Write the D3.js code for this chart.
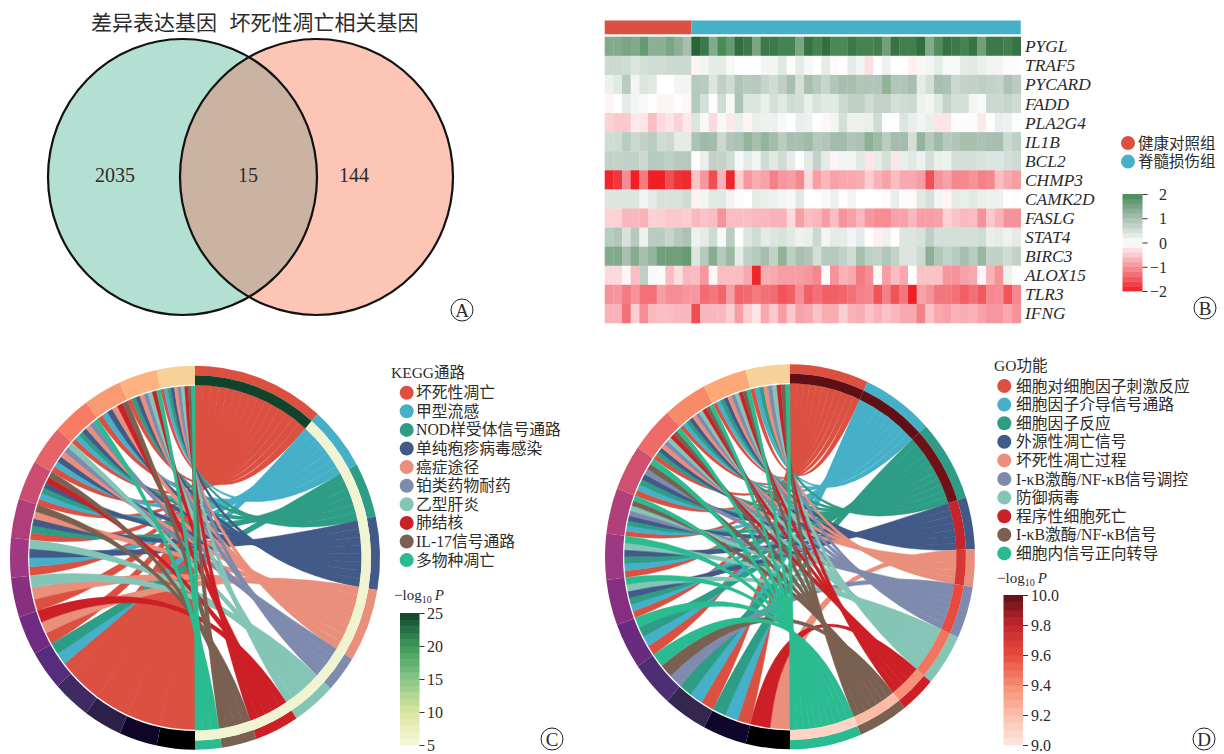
<!DOCTYPE html>
<html lang="zh">
<head>
<meta charset="UTF-8">
<title>Venn, heatmap and chord diagrams</title>
<script src="https://d3js.org/d3.v7.min.js"></script>
<style>
    body { margin: 0; background: #fff; }
    svg text { font-family: "Liberation Serif", "Noto Sans CJK SC", serif; fill: #2b2b2b; }
</style>
</head>
<body>
<svg id="chart" width="1224" height="754"></svg>
<script>
// Panel A
const vennLabels = ['差异表达基因', '坏死性凋亡相关基因'];
const vennCounts = [2035, 15, 144];

// Panel B
const heatGenes = ['PYGL', 'TRAF5', 'PYCARD', 'FADD', 'PLA2G4', 'IL1B', 'BCL2', 'CHMP3', 'CAMK2D', 'FASLG', 'STAT4', 'BIRC3', 'ALOX15', 'TLR3', 'IFNG'];
const heatGroups = ['健康对照组', '脊髓损伤组'];
const heatGroupSizes = [10, 38];
const heatValues = [
    [1.4,1.4,1.5,1.4,1.7,1.3,1.3,1.5,1.3,1.0, 2.7,2.3,1.4,2.0,1.7,2.5,2.3,1.5,2.3,2.3,2.1,2.1,1.5,2.4, 2.1,2.5,2.0,2.0,2.3,2.1,2.1,2.2,1.6,2.4,2.2,2.2,2.5,1.4,1.9,2.4,2.3,2.1,2.4,1.6,2.3,2.3,2.2,2.4],
    [.6,.6,.55,.4,.5,.55,.55,.6,.6,.6, -.1,.15,.3,.3,.1,0,0,0,.15,.15,.35,.05,.3,.1, 0,.3,-.05,0,.3,.15,-.3,0,.2,0,0,-.15,.1,.15,.3,.1,.1,.3,.35,.25,.15,.15,.05,.05],
    [.2,.35,.8,.15,.4,.35,0,0,.15,.15, .85,.8,.4,.75,.55,.9,.8,.85,.65,.55,.75,1,.5,1, .85,.65,.9,1,1,.9,.9,.9,1.25,.9,.9,1,.3,.5,1,.95,.6,.7,.7,.75,.7,.65,.95,.8],
    [-.1,-.02,.3,.15,.1,-.03,-.1,-.1,-.03,-.08, .85,.5,-.02,.55,.1,.95,.4,.4,.25,.5,.35,.55,.5,.25, .45,.35,.35,.6,.75,.75,.55,.7,.7,.5,.55,.6,.2,.15,.35,.7,.5,.5,.15,.08,.6,.6,.65,.55],
    [-.4,-.5,-.5,-.2,-.25,-.6,-.35,-.25,-.4,-.2, .4,.1,-.35,.1,-.2,.25,-.1,.25,.2,.2,.1,0,.25,.2, 0,-.08,.15,.5,.2,.2,.25,.55,0,-.02,.4,.25,.15,.25,-.25,-.25,.05,.05,.05,-.2,0,.25,.2,.05],
    [.55,.55,.8,.6,.7,.8,.55,.6,.3,.3, .95,1.1,1.05,.6,.9,.95,1.2,1,1.2,1.05,.8,1,1,1.1, .85,.9,1.05,1.05,.9,.95,1.3,1.1,.8,1.05,1.05,.5,1.2,.85,1.1,.85,.9,1,1,.95,1,1,.6,.75],
    [.7,.7,.7,.7,.6,.85,.8,.75,.85,.85, -.02,.25,.7,.7,.55,.1,.3,.15,.55,.35,.55,.3,0,.3, .7,.3,-.1,.15,.15,.35,-.25,.3,.5,-.25,.25,.35,.2,.5,.25,.2,.5,.5,.5,.45,.4,.4,.5,.55],
    [-1.95,-1.8,-1.05,-2,-1.2,-2,-2,-1.6,-1.85,-1.9, -.55,-.95,-1.6,-.7,-1.95,-.45,-.95,-.75,-.85,-1.15,-.95,-.9,-1.1,-.35, -.9,-.65,-.85,-.8,-.8,-.75,-.45,-.7,-.85,-.6,-.8,-.8,-.9,-1.6,-1,-.85,-1.1,-1.1,-1,-1.15,-1.1,-.6,-.8,-.9],
    [.4,.4,.4,.4,.15,.3,.45,.45,.45,.55, -.12,.15,.35,.35,.15,.05,0,.3,.25,.2,.15,.1,.35,0, 0,.1,.2,-.02,.15,0,0,0,.05,.25,.05,-.05,.35,.5,.15,-.1,.3,.25,.35,.25,.2,.2,-.02,.05],
    [-.4,-.4,-.65,-.65,-.7,-.4,-.45,-.5,-.5,-.45, -.65,-.55,-.6,-1,-.6,-.6,-.6,-.65,-.65,-.7,-.7,-.35,-.9,-.6, -.65,-.9,-.6,-1,-.85,-.65,-.95,-1.05,-1.05,-.85,-.85,-.65,-.9,-.9,-.85,-.4,-.55,-.65,-.6,-1,-.5,-.7,-1,-1],
    [.8,.9,.45,.85,.2,.8,.8,.65,.85,.95, .2,.3,.55,.1,.8,-.02,.4,.55,.3,.4,.45,.35,.2,.25, .6,.15,.3,.3,.15,.3,-.02,-.15,.2,-.02,.4,.4,.45,.75,.5,.5,.5,.5,.5,.55,.25,.3,.2,.3],
    [1.4,1.4,1,1.35,1,1.2,1.6,1.6,1.6,1.7, .4,.85,1.35,.85,1.15,.3,.75,.85,1,.7,1.25,.75,1,.9, .5,.85,.85,.7,.55,1,.75,.7,.9,.7,.4,.4,.6,1.3,.9,.7,.8,1,.8,1.15,.7,.7,.55,.7],
    [-.35,-.35,-.08,-.6,.75,.1,-.05,-.6,-.3,-.65, -.6,-.95,-.08,-.6,-.6,-.6,-.8,-1.95,-.75,-.8,-.9,-.9,-.9,-.95, -1.1,-.05,-1,-.7,-.8,-1.2,-1.05,-.05,-.9,-.6,-.8,0,-.55,-.55,-.55,-.95,-1,-.85,-.8,-.08,-.7,-1,.2,-.03],
    [-1,-.95,-1.2,-1,-1.3,-1.3,-.9,-1.05,-1.05,-.95, -.95,-1.35,-1.25,-1.4,-.9,-1.4,-1.35,-1.2,-1.3,-1.35,-1.55,-1.45,-1.05,-1.45, -1.3,-1.45,-1.45,-1.4,-1.3,-1.15,-1.1,-1.55,-1.15,-1.55,-1.25,-2,-.85,-1,-1.25,-1.25,-1.3,-1.45,-1.3,-1.5,-1.1,-1.05,-1.55,-1.1],
    [-.7,-.7,-1.3,-.45,-1.05,-.65,-.6,-.6,-.65,-.65, -1.6,-.65,-.65,-.65,-.45,-.9,-.45,-.25,-.8,-.5,-.9,-.5,-.85,-.8, -.55,-.75,-.75,-.45,-.7,-.75,-.55,-.7,-.55,-.65,-.8,-.8,-1.15,-.55,-.8,-.85,-.7,-.75,-.7,-.85,-.95,-.95,-.8,-1]
];
const heatTicks = [2, 1, 0, -1, -2];

// Panels C and D. Links are listed per gene, starting from the gene at the bottom of the circle
const termColors = ['#dc5041', '#45b0c8', '#2e9d85', '#425a88', '#ea8f7b', '#7f8bae', '#84c5b6', '#cc1f26', '#7a6050', '#2bbb90'];
const keggTerms = ['坏死性凋亡', '甲型流感', 'NOD样受体信号通路', '单纯疱疹病毒感染', '癌症途径', '铂类药物耐药', '乙型肝炎', '肺结核', 'IL-17信号通路', '多物种凋亡'];
const keggLogP = [25, 6, 6, 6, 6, 6, 6, 6, 6, 6];
const keggLinks = [
    [1], [1], [1], [1], [1, 2, 3], [1, 5, 8], [1, 5, 7], [1, 2, 4, 7],
    [1, 3, 4, 5, 9], [1, 2, 3, 4, 8, 9], [1, 2, 4, 5, 6, 7], [1, 2, 3, 4, 5, 6, 10],
    [1, 2, 4, 5, 8, 9], [1, 3, 4, 5, 6, 7, 8, 10], [1, 2, 3, 4, 5, 6, 7, 8, 9, 10]
];
const keggGeneColors = ['#000000', '#0f0527', '#2c1f48', '#3f2b62', '#552d7c', '#6f2a82', '#88307f', '#9f3782', '#b13e7a', '#cc4c72', '#e6636a', '#f87c63', '#fa9a71', '#fdb27f', '#f6d199'];
const keggTicks = [25, 20, 15, 10, 5];

const goTerms = ['细胞对细胞因子刺激反应', '细胞因子介导信号通路', '细胞因子反应', '外源性凋亡信号', '坏死性凋亡过程', 'I-κB激酶/NF-κB信号调控', '防御病毒', '程序性细胞死亡', 'I-κB激酶/NF-κB信号', '细胞内信号正向转导'];
const goLogP = [10, 10, 9.97, 9.8, 9.7, 9.6, 9.47, 9.38, 9.22, 9.1];
const goLinks = [
    [5, 8], [1, 2, 3], [1, 2, 3], [6, 9, 10], [1, 2, 3, 10], [1, 2, 3, 4, 7, 10], [1, 2, 3, 4, 7, 10],
    [1, 2, 3, 4, 6, 7, 9, 10], [1, 2, 3, 4, 6, 9, 10], [1, 3, 4, 5, 6, 7, 8, 9, 10],
    [1, 2, 3, 4, 5, 6, 7, 8, 9, 10], [1, 2, 3, 4, 5, 6, 7, 8, 9, 10], [1, 2, 3, 5, 6, 7, 8, 9, 10]
];
const goGeneColors = ['#000000', '#10062c', '#33264f', '#4e2e72', '#6a2a80', '#862f80', '#9d3882', '#b03f7b', '#d1506f', '#ee6b68', '#f98a68', '#fca877', '#f6d199'];
const goTicks = [10, 9.8, 9.6, 9.4, 9.2, 9];

const svg = d3.select('#chart');

function circledLetter(letter, x, y) {
    svg.append('circle').attr('cx', x).attr('cy', y).attr('r', 11)
        .attr('fill', 'none').attr('stroke', '#222').attr('stroke-width', 1);
    svg.append('text').attr('x', x).attr('y', y + 6.5).attr('text-anchor', 'middle')
        .style('font-size', '19px').text(letter);
}

function logLabel(x, y) {
    const t = svg.append('text').attr('x', x).attr('y', y).style('font-size', '15px');
    t.append('tspan').text('−log');
    t.append('tspan').attr('dy', 3).style('font-size', '10px').text('10');
    t.append('tspan').attr('dy', -3).attr('dx', 3).style('font-style', 'italic').text('P');
}

// stepped colour bar with tick marks, like the ones ggplot draws
function colorBar(color, ticks, x0, x1, y0, y1, steps, format, labelX, anchor) {
    const domain = d3.extent(color.domain());
    const y = d3.scaleLinear().domain([domain[1], domain[0]]).range([y0, y1]);
    const step = (domain[1] - domain[0]) / steps;
    svg.append('g').selectAll('rect')
        .data(d3.range(steps))
        .enter().append('rect')
        .attr('x', x0)
        .attr('width', x1 - x0)
        .attr('y', d => y(domain[0] + (d + 1) * step))
        .attr('height', (y1 - y0) / steps + 0.4)
        .attr('fill', d => color(domain[0] + (d + 0.5) * step));
    const axis = svg.append('g').attr('transform', `translate(${x1},0)`)
        .call(d3.axisRight(y).tickValues(ticks).tickSize(5).tickFormat(format));
    axis.select('.domain').remove();
    axis.selectAll('line').attr('stroke', '#333');
    axis.selectAll('text').style('font-size', '16px')
        .attr('text-anchor', anchor)
        .attr('x', labelX - x1).attr('dy', '0.35em');
}

// Panel A
const vennG = svg.append('g');
const vennLeft = { cx: 182.5, cy: 177, rx: 134.5, ry: 138 };
const vennRight = { cx: 316.5, cy: 177, rx: 136.5, ry: 138 };
const ell = (sel, e) => sel.attr('cx', e.cx).attr('cy', e.cy).attr('rx', e.rx).attr('ry', e.ry);
svg.append('clipPath').attr('id', 'vennClip').append('ellipse').call(ell, vennLeft);
vennG.append('ellipse').call(ell, vennLeft).attr('fill', '#b4dfd3');
vennG.append('ellipse').call(ell, vennRight).attr('fill', '#fcc5b5');
vennG.append('ellipse').call(ell, vennRight).attr('fill', '#cbb3a1').attr('clip-path', 'url(#vennClip)');
[vennLeft, vennRight].forEach(e => {
    vennG.append('ellipse').call(ell, e).attr('fill', 'none').attr('stroke', '#111').attr('stroke-width', 2.2);
});
svg.selectAll('.vennTitle').data(vennLabels).enter().append('text')
    .attr('class', 'vennTitle')
    .attr('x', (d, i) => [154, 324][i])
    .attr('y', 30)
    .attr('text-anchor', 'middle')
    .style('font-size', '21px')
    .text(d => d);
svg.selectAll('.vennCount').data(vennCounts).enter().append('text')
    .attr('class', 'vennCount')
    .attr('x', (d, i) => [115, 248, 354][i])
    .attr('y', 182)
    .attr('text-anchor', 'middle')
    .style('font-size', '20px')
    .text(d => d);
circledLetter('A', 462, 310);

// Panel B
const colIds = d3.range(d3.sum(heatGroupSizes));
const heatX = d3.scaleBand().domain(colIds).range([604.7, 1020.7]);
const heatY = d3.scaleBand().domain(heatGenes).range([36.7, 323]);
const heatColor = d3.scaleLinear()
    .domain([-2, -1, 0, 1, 2, 2.7])
    .range(['#ee2024', '#f6929a', '#ffffff', '#a8bfb0', '#4a8a55', '#2a6336']);
const groupColors = ['#dc5041', '#45b0c8'];

heatGenes.forEach((gene, r) => {
    svg.append('g').selectAll('rect')
        .data(heatValues[r])
        .enter().append('rect')
        .attr('x', (d, i) => heatX(i))
        .attr('y', heatY(gene))
        .attr('width', heatX.bandwidth() + 0.3)
        .attr('height', heatY.bandwidth() + 0.3)
        .attr('fill', d => heatColor(d));
});
let groupStart = 0;
heatGroupSizes.forEach((n, i) => {
    svg.append('rect')
        .attr('x', heatX(groupStart))
        .attr('y', 20.5)
        .attr('width', n * heatX.bandwidth())
        .attr('height', 13.8)
        .attr('fill', groupColors[i]);
    groupStart += n;
});
svg.selectAll('.geneLabel').data(heatGenes).enter().append('text')
    .attr('class', 'geneLabel')
    .attr('x', 1025)
    .attr('y', d => heatY(d) + heatY.bandwidth() / 2 + 6)
    .style('font-size', '17.4px')
    .style('font-style', 'italic')
    .text(d => d);
heatGroups.forEach((g, i) => {
    svg.append('circle').attr('cx', 1128).attr('cy', 143 + i * 18.6).attr('r', 7).attr('fill', groupColors[i]);
    svg.append('text').attr('x', 1138).attr('y', 148.5 + i * 18.6).style('font-size', '15.5px').text(g);
});
colorBar(d3.scaleLinear().domain([-2, -1, 0, 1, 2]).range(['#ee2024', '#f6929a', '#ffffff', '#a8bfb0', '#4a8a55']),
    heatTicks, 1122.5, 1142.5, 194, 291, 20, d => String(d).replace('-', '−'), 1167, 'end');
circledLetter('B', 1205, 308);

// Panels C and D
function chordPanel(links, geneColors, logP, color, cx, cy, rx, ry) {
    const g = svg.append('g').attr('transform', `translate(${cx},${cy}) scale(1,${ry / rx})`);
    const nLinks = d3.sum(links, d => d.length);
    const termAngle = d3.scaleLinear().domain([0, nLinks]).range([0, Math.PI]);
    const geneAngle = d3.scaleBand().domain(d3.range(links.length)).range([Math.PI, 2 * Math.PI]);
    const ribbon = d3.ribbon();
    const arc = d3.arc();

    // slot of every link on both sides, terms take genes in order from the bottom gene up
    const chords = [];
    let used = 0;
    const spans = [];
    termColors.forEach((c, t) => {
        const start = used;
        links.forEach((terms, i) => {
            if (terms.includes(t + 1)) {
                const k = terms.indexOf(t + 1);
                const slot = geneAngle.bandwidth() / terms.length;
                chords.push({
                    term: t,
                    source: { startAngle: geneAngle(i) + k * slot, endAngle: geneAngle(i) + (k + 1) * slot, radius: rx - 19.5 },
                    target: { startAngle: termAngle(used), endAngle: termAngle(used + 1), radius: rx - 18.5 }
                });
                used++;
            }
        });
        spans.push({ start: termAngle(start), end: termAngle(used), term: t });
    });

    g.append('g').selectAll('path')
        .data(chords)
        .enter().append('path')
        .attr('d', ribbon)
        .attr('fill', d => termColors[d.term])
        .attr('stroke', d => termColors[d.term])
        .attr('stroke-width', 0.4);

    g.append('g').selectAll('path')
        .data(links)
        .enter().append('path')
        .attr('d', (d, i) => arc({ innerRadius: rx - 18, outerRadius: rx, startAngle: geneAngle(i), endAngle: geneAngle(i) + geneAngle.bandwidth() }))
        .attr('fill', (d, i) => geneColors[i]);

    g.append('g').selectAll('path')
        .data(spans)
        .enter().append('path')
        .attr('d', d => arc({ innerRadius: rx - 9, outerRadius: rx, startAngle: d.start, endAngle: d.end }))
        .attr('fill', d => termColors[d.term]);

    g.append('g').selectAll('path')
        .data(spans)
        .enter().append('path')
        .attr('d', d => arc({ innerRadius: rx - 18.5, outerRadius: rx - 9, startAngle: d.start, endAngle: d.end }))
        .attr('fill', d => color(logP[d.term]));
}

function termLegend(title, terms, titleX, titleY, circleX, firstY, textX) {
    svg.append('text').attr('x', titleX).attr('y', titleY).style('font-size', '15.5px').text(title);
    terms.forEach((t, i) => {
        svg.append('circle').attr('cx', circleX).attr('cy', firstY + i * 18.6).attr('r', 7).attr('fill', termColors[i]);
        svg.append('text').attr('x', textX).attr('y', firstY + 5.5 + i * 18.6).style('font-size', '15.8px').text(t);
    });
}

const keggColor = d3.scaleLinear().domain([5, 10, 15, 20, 25]).range(['#f7f8dc', '#dbe6a0', '#88c686', '#3c9a5a', '#10432a']);
const goColor = d3.scaleLinear().domain([9, 9.2, 9.4, 9.6, 9.8, 10]).range(['#fde8e0', '#fcc0ac', '#f88c72', '#e84a3e', '#c2262c', '#5e1015']);

chordPanel(keggLinks, keggGeneColors, keggLogP, keggColor, 195, 557.8, 185, 192);
termLegend('KEGG通路', keggTerms, 391, 378, 406.7, 392.7, 416);
logLabel(394, 600);
colorBar(keggColor, keggTicks, 400, 419.5, 613, 745, 20, d => d, 427, 'start');
circledLetter('C', 552, 739);

chordPanel(goLinks, goGeneColors, goLogP, goColor, 790, 556.8, 185, 192.5);
termLegend('GO功能', goTerms, 994, 371, 1004.3, 386, 1016);
logLabel(997, 583);
colorBar(goColor, goTicks, 1003.5, 1023, 595, 745, 20, d => d.toFixed(1), 1031, 'start');
circledLetter('D', 1204, 739);
</script>
</body>
</html>
